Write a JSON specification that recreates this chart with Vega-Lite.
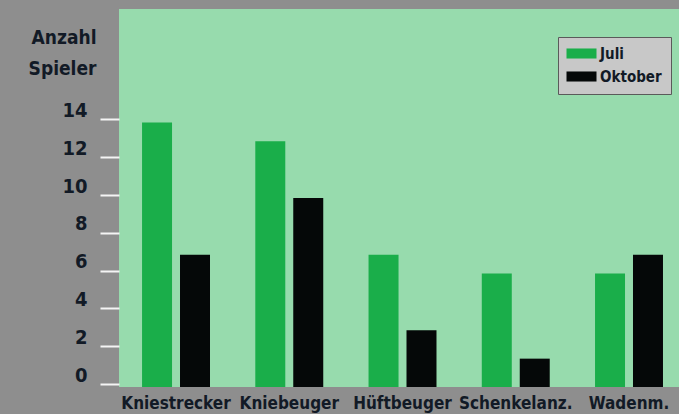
{
  "$schema": "https://vega.github.io/schema/vega-lite/v6.json",
  "width": 560,
  "height": 378,
  "autosize": {"type": "none"},
  "padding": {"top": 9, "left": 119, "right": 0, "bottom": 27},
  "background": "#8e8e8e",
  "data": {
    "values": [
      {"muskel": "Kniestrecker", "monat": "Juli", "anzahl": 14},
      {"muskel": "Kniestrecker", "monat": "Oktober", "anzahl": 7},
      {"muskel": "Kniebeuger", "monat": "Juli", "anzahl": 13},
      {"muskel": "Kniebeuger", "monat": "Oktober", "anzahl": 10},
      {"muskel": "Hüftbeuger", "monat": "Juli", "anzahl": 7},
      {"muskel": "Hüftbeuger", "monat": "Oktober", "anzahl": 3},
      {"muskel": "Schenkelanz.", "monat": "Juli", "anzahl": 6},
      {"muskel": "Schenkelanz.", "monat": "Oktober", "anzahl": 1.5},
      {"muskel": "Wadenm.", "monat": "Juli", "anzahl": 6},
      {"muskel": "Wadenm.", "monat": "Oktober", "anzahl": 7}
    ]
  },
  "mark": {"type": "bar"},
  "encoding": {
    "x": {
      "field": "muskel",
      "type": "nominal",
      "sort": ["Kniestrecker", "Kniebeuger", "Hüftbeuger", "Schenkelanz.", "Wadenm."],
      "scale": {"paddingInner": 0.4, "paddingOuter": 0.1725, "align": 0.59},
      "axis": {
        "title": null,
        "domain": false,
        "ticks": false,
        "labelAngle": 0,
        "labelFont": "DejaVu Sans Condensed",
        "labelFontWeight": "bold",
        "labelFontSize": 17,
        "labelColor": "#121a26",
        "labelPadding": 8
      }
    },
    "xOffset": {
      "field": "monat",
      "type": "nominal",
      "sort": ["Juli", "Oktober"],
      "scale": {"paddingInner": 0.21, "paddingOuter": 0}
    },
    "y": {
      "field": "anzahl",
      "type": "quantitative",
      "scale": {"domain": [0, 20], "nice": false},
      "axis": {
        "values": [0, 2, 4, 6, 8, 10, 12, 14],
        "grid": false,
        "domain": false,
        "tickColor": "#f4f4f4",
        "tickWidth": 2,
        "tickSize": 19,
        "tickOffset": -3,
        "labelOffset": -3,
        "labelBaseline": "alphabetic",
        "labelPadding": 13,
        "labelFont": "DejaVu Sans Condensed",
        "labelFontWeight": "bold",
        "labelFontSize": 20,
        "labelColor": "#121a26",
        "title": ["Anzahl", "Spieler"],
        "titleAngle": 0,
        "titleAlign": "right",
        "titleBaseline": "alphabetic",
        "titleX": -23,
        "titleY": 34,
        "titleLineHeight": 31,
        "titleFont": "DejaVu Sans Condensed",
        "titleFontWeight": "bold",
        "titleFontSize": 19,
        "titleColor": "#121a26"
      }
    },
    "color": {
      "field": "monat",
      "type": "nominal",
      "scale": {"domain": ["Juli", "Oktober"], "range": ["#1aae4a", "#050808"]},
      "legend": {
        "title": null,
        "orient": "none",
        "legendX": 439,
        "legendY": 28,
        "padding": 9,
        "fillColor": "#c8c8c8",
        "strokeColor": "#5a5a5a",
        "symbolType": "M-2,-0.67H2V0.67H-2Z",
        "symbolSize": 225,
        "symbolStrokeWidth": 0,
        "symbolOpacity": 1,
        "symbolOffset": 7,
        "rowPadding": 7,
        "labelOffset": 11,
        "labelFont": "DejaVu Sans Condensed",
        "labelFontWeight": "bold",
        "labelFontSize": 15,
        "labelColor": "#121a26"
      }
    }
  },
  "config": {
    "view": {"fill": "#97dbad", "stroke": null}
  }
}
